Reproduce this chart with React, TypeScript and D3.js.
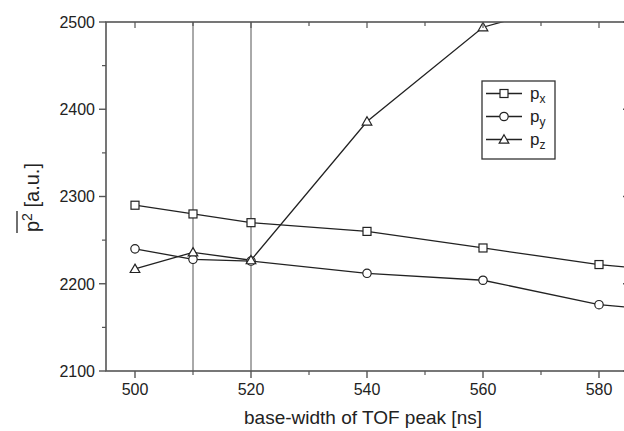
import React from 'react';
import * as d3 from 'd3';

// base-width of TOF peak [ns]
const widths = [500, 510, 520, 540, 560, 580, 600];
const px = [2290, 2280, 2270, 2260, 2241, 2222, 2210];
const py = [2240, 2228, 2226, 2212, 2204, 2176, 2164];
const pz = [2217, 2236, 2227, 2386, 2494, 2531, 2570];
const markedWidths = [510, 520];
const yTicks = [2100, 2200, 2300, 2400, 2500];
const xTicks = [500, 520, 540, 560, 580];
const legendNames = ['x', 'y', 'z'];

const W = 624;
const H = 431;
const left = 106;
const right = 628;
const top = 22;
const bottom = 371;
const ink = '#222';
const axisCol = '#555';

const x = d3.scaleLinear().domain([495, 585]).range([left, right]);
const y = d3.scaleLinear().domain([2100, 2500]).range([bottom, top]);

const Marker = ({ kind, cx, cy }: { kind: string; cx: number; cy: number }) => {
  if (kind === 'square')
    return <rect x={cx - 4} y={cy - 4} width={8} height={8} fill="#fff" stroke={ink} strokeWidth={1.2} />;
  if (kind === 'circle') return <circle cx={cx} cy={cy} r={4.2} fill="#fff" stroke={ink} strokeWidth={1.2} />;
  const sym = d3.symbol().type(d3.symbolTriangle).size(40)();
  return <path d={sym || ''} transform={`translate(${cx},${cy + 0.8})`} fill="#fff" stroke={ink} strokeWidth={1.2} />;
};

const App = () => {
  const series = [
    { vals: px, kind: 'square' },
    { vals: py, kind: 'circle' },
    { vals: pz, kind: 'triangle' },
  ];
  const line = d3
    .line<number>()
    .x((_, i) => x(widths[i]))
    .y((d) => y(d));

  const minorY = d3.range(2150, 2500, 100);
  const xAll = d3.range(500, 590, 10);
  const minorX = xAll.filter((v) => !xTicks.includes(v));

  return (
    <svg width={W} height={H} style={{ position: 'absolute', left: 0, top: 0, background: '#fff' }}
      fontFamily="'Liberation Sans', Arial, sans-serif">
      <defs>
        <clipPath id="plot">
          <rect x={left} y={top} width={right - left} height={bottom - top} />
        </clipPath>
      </defs>
      <rect width={W} height={H} fill="#fff" />

      {/* vertical guide lines */}
      {markedWidths.map((v) => (
        <line key={v} x1={x(v)} x2={x(v)} y1={top} y2={bottom} stroke={axisCol} strokeWidth={1} />
      ))}

      {/* series */}
      <g clipPath="url(#plot)">
        {series.map((s, k) => (
          <path key={k} d={line(s.vals) || ''} fill="none" stroke={ink} strokeWidth={1.3} />
        ))}
        {series.map((s, k) =>
          s.vals.map((v, i) => <Marker key={`${k}-${i}`} kind={s.kind} cx={x(widths[i])} cy={y(v)} />)
        )}
      </g>

      {/* frame */}
      <rect x={left} y={top} width={right - left} height={bottom - top} fill="none" stroke={axisCol} strokeWidth={1.6} />

      {/* y axis */}
      {yTicks.map((v) => (
        <g key={v}>
          <line x1={left - 7} x2={left} y1={y(v)} y2={y(v)} stroke={axisCol} strokeWidth={1.4} />
          <line x1={right - 5} x2={right} y1={y(v)} y2={y(v)} stroke={axisCol} strokeWidth={1.4} />
          <text x={left - 11} y={y(v)} dy="0.36em" textAnchor="end" fontSize={16} fill="#222">{v}</text>
        </g>
      ))}
      {minorY.map((v) => (
        <g key={v}>
          <line x1={left - 4} x2={left} y1={y(v)} y2={y(v)} stroke={axisCol} strokeWidth={1.2} />
          <line x1={right - 3} x2={right} y1={y(v)} y2={y(v)} stroke={axisCol} strokeWidth={1.2} />
        </g>
      ))}

      {/* x axis */}
      {xTicks.map((v) => (
        <g key={v}>
          <line x1={x(v)} x2={x(v)} y1={bottom} y2={bottom + 7} stroke={axisCol} strokeWidth={1.4} />
          <text x={x(v)} y={bottom + 24} textAnchor="middle" fontSize={16} fill="#222">{v}</text>
        </g>
      ))}
      {minorX.map((v) => (
        <line key={v} x1={x(v)} x2={x(v)} y1={bottom} y2={bottom + 4} stroke={axisCol} strokeWidth={1.2} />
      ))}
      {xAll.map((v) => (
        <line key={`t${v}`} x1={x(v)} x2={x(v)} y1={top} y2={top + (xTicks.includes(v) ? 6 : 4)} stroke={axisCol} strokeWidth={1.2} />
      ))}

      <text x={363} y={424} textAnchor="middle" fontSize={19} fill="#222">
        base-width of TOF peak [ns]
      </text>

      {/* y title */}
      <g transform="translate(39,232) rotate(-90)">
        <text x={0} y={0} fontSize={20} fill="#222">
          p<tspan dy={-7} fontSize={14}>2</tspan><tspan dy={7}> [a.u.]</tspan>
        </text>
        <line x1={-1} x2={21} y1={-22} y2={-22} stroke="#222" strokeWidth={1.3} />
      </g>

      {/* legend */}
      <rect x={482} y={81} width={73} height={78} fill="#fff" stroke="#333" strokeWidth={1.3} />
      {series.map((s, i) => {
        const ly = 93.5 + i * 23;
        return (
          <g key={i}>
            <line x1={486} x2={522} y1={ly} y2={ly} stroke={ink} strokeWidth={1.3} />
            <Marker kind={s.kind} cx={504} cy={ly} />
            <text x={530} y={ly + 5} fontSize={17} fill="#222">
              p<tspan dy={4} fontSize={12}>{legendNames[i]}</tspan>
            </text>
          </g>
        );
      })}
    </svg>
  );
};

export default App;
